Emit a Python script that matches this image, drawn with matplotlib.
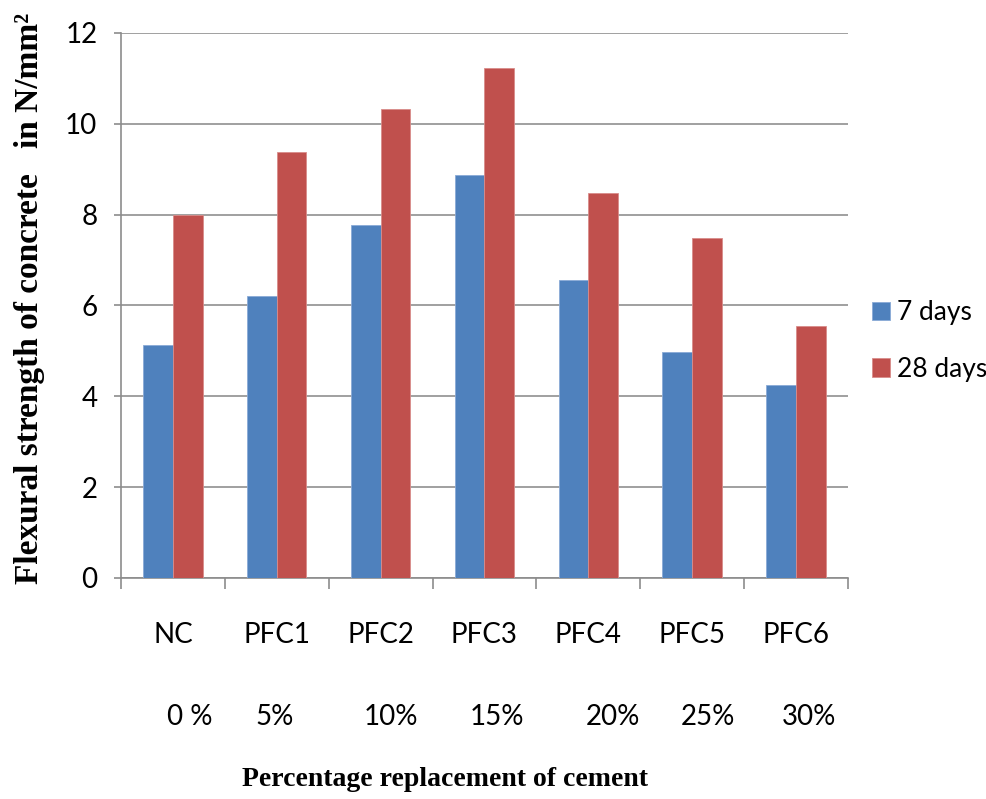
import numpy as np
import matplotlib
matplotlib.use("Agg")
import matplotlib.pyplot as plt

# values
mixes = ["NC", "PFC1", "PFC2", "PFC3", "PFC4", "PFC5", "PFC6"]
replacement = ["0 %", "5%", "10%", "15%", "20%", "25%", "30%"]
days7 = [5.12, 6.21, 7.78, 8.87, 6.57, 4.97, 4.25]
days28 = [8.0, 9.37, 10.32, 11.24, 8.48, 7.49, 5.55]

# small horizontal nudges of the % labels (as typed in the original)
pct_shift = [0.16, -0.02, 0.10, 0.12, 0.24, 0.15, 0.13]

blue = "#4F81BD"
red = "#C0504D"
grey = "#A0A0A0"
sans = ["Lato", "DejaVu Sans"]
serif = ["Liberation Serif", "DejaVu Serif"]

fig = plt.figure(figsize=(9.87, 7.99), dpi=100)
ax = fig.add_axes([0.1226, 0.2766, 0.7364, 0.6821])

x = np.arange(len(mixes))
w = 0.285
ax.bar(x - w / 2, days7, w, color=blue, edgecolor="#8AAAD6", linewidth=0.6,
       label="7 days", zorder=3)
ax.bar(x + w / 2, days28, w, color=red, edgecolor="#D98C8A", linewidth=0.6,
       label="28 days", zorder=3)

ax.set_xlim(-0.5, len(mixes) - 0.5)
ax.set_ylim(0, 12)
ax.set_yticks(np.arange(0, 13, 2))
ax.yaxis.grid(True, color=grey, linewidth=1.4, zorder=0)
ax.set_axisbelow(True)

for s in ["top", "right"]:
    ax.spines[s].set_visible(False)
ax.spines["left"].set_color("#8C8C8C")
ax.spines["bottom"].set_color("#8C8C8C")
ax.spines["left"].set_linewidth(1.2)
ax.spines["bottom"].set_linewidth(1.2)

# category labels at centres, tick marks at boundaries
ax.set_xticks(x)
ax.set_xticklabels(mixes, fontfamily=sans, fontsize=20)
ax.tick_params(axis="x", length=0, pad=32)
ax.set_xticks(np.arange(-0.5, len(mixes)), minor=True)
ax.tick_params(axis="x", which="minor", length=8, width=1.2, color="#8C8C8C")
ax.tick_params(axis="y", length=5, width=1.2, color="#8C8C8C", pad=12)
for lab in ax.get_yticklabels():
    lab.set_fontfamily(sans)
    lab.set_fontsize(20)

trans = ax.get_xaxis_transform()
for i, p in enumerate(replacement):
    ax.text(x[i] + pct_shift[i], -0.255, p, transform=trans, ha="center",
            va="center", fontfamily=sans, fontsize=20)

fig.text(0.451, 0.024, "Percentage replacement of cement", ha="center",
         va="center", fontfamily=serif, fontweight="bold", fontsize=20)
fig.text(0.030, 0.627, "Flexural strength of concrete   in N/mm²",
         rotation=90, ha="center", va="center", fontfamily=serif,
         fontweight="bold", fontsize=24)

ax.legend(loc="center left", bbox_to_anchor=(1.0, 0.435), frameon=False,
          prop={"family": sans, "size": 19}, handlelength=0.7,
          handleheight=0.7, handletextpad=0.25, labelspacing=1.2,
          borderaxespad=0.5)

fig.savefig("out.png", dpi=100)
